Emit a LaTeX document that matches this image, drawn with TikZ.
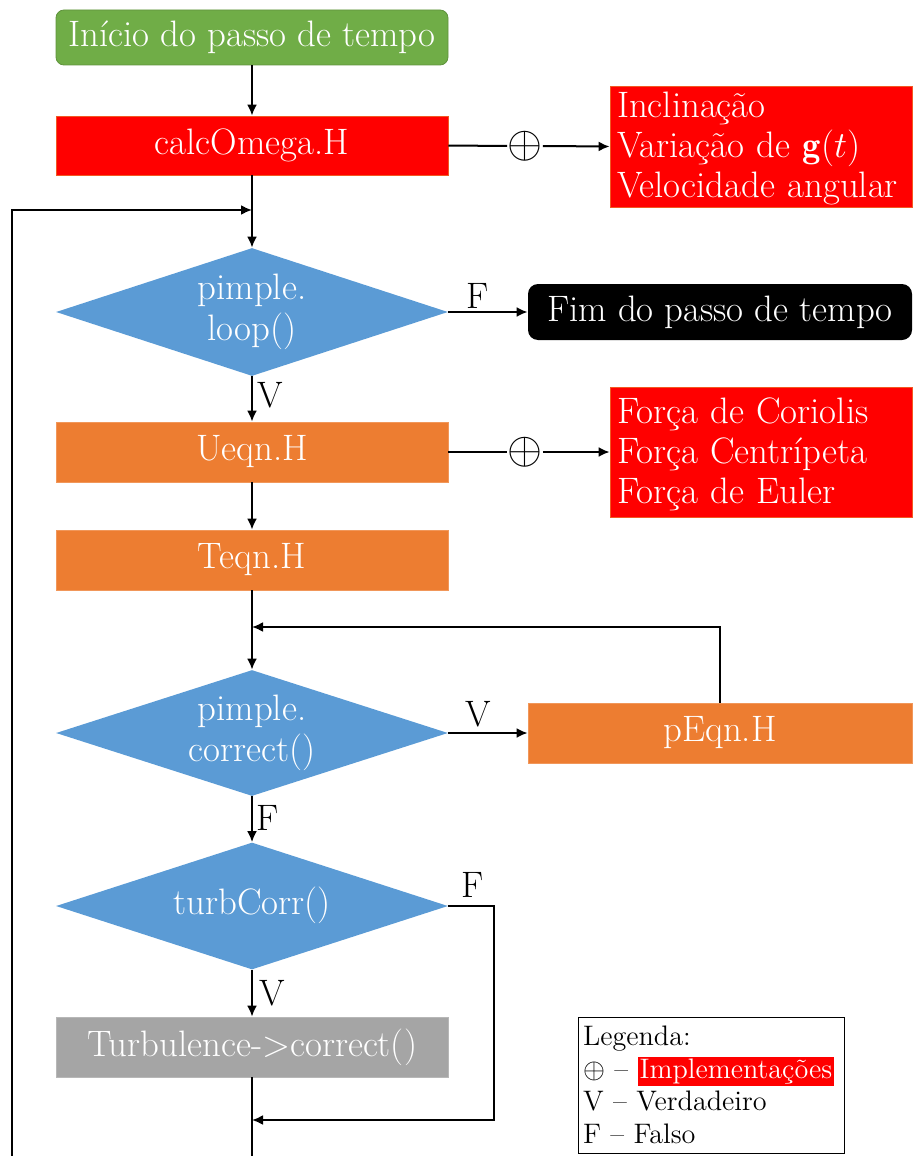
\documentclass[tikz,border=0pt]{standalone}
\usepackage{fix-cm}
\usepackage{fontspec}
\usetikzlibrary{shapes.geometric,arrows.meta}
\definecolor{boxgreen}{HTML}{70AD47}
\definecolor{boxblue}{HTML}{5B9BD5}
\definecolor{boxorange}{HTML}{ED7D31}
\definecolor{boxgray}{HTML}{A5A5A5}
\definecolor{boxred}{HTML}{FF0000}
\tikzset{
  maintext/.style={font=\fontsize{18.4}{20.5}\selectfont, text=white},
  procbox/.style={maintext, rectangle, minimum width=196pt, minimum height=30pt, inner sep=0pt},
  orangebox/.style={procbox, fill=boxorange, draw=boxorange!80!white, line width=0.4pt},
  decision/.style={maintext, diamond, aspect=3.06, fill=boxblue, inner sep=0pt,
    minimum width=196pt, minimum height=64pt, align=center},
  sidebox/.style={maintext, rectangle, fill=boxred, draw=boxorange!70!boxred, line width=0.4pt,
    inner xsep=3.5pt, inner ysep=0pt, text width=144pt, align=left, minimum width=151pt},
  plusnode/.style={inner sep=0pt, font=\fontsize{22.5}{22.5}\selectfont},
  flow/.style={line width=1pt, -{Latex[length=5.5pt,width=5pt]}},
  plain/.style={line width=1pt},
  branch/.style={font=\fontsize{18.4}{20}\selectfont, inner sep=0pt},
}
\begin{document}
\begin{tikzpicture}[x=0.5pt, y=-0.5pt]
  \useasboundingbox (0,0) rectangle (912,1156);

  % main column
  \node[procbox, fill=boxgreen, draw=boxgreen!85!black, line width=0.4pt,
        rounded corners=4pt, minimum height=27.5pt] (start) at (252,37.5) {Início do passo de tempo};
  \node[procbox, fill=boxred, draw=boxorange!70!boxred, line width=0.4pt, minimum height=29.5pt]
        (omega) at (252,145.5) {calcOmega.H};
  \node[decision] (loop) at (252,312) {pimple.\\loop()};
  \node[orangebox] (ueqn) at (252,452) {Ueqn.H};
  \node[orangebox] (teqn) at (252,560) {Teqn.H};
  \node[decision, minimum height=63pt] (corr) at (252,733) {pimple.\\correct()};
  \node[decision, minimum height=63.5pt] (turb) at (252,906) {\raisebox{5pt}{turbCorr()}};
  \node[procbox, fill=boxgray, draw=boxgray!80!white, line width=0.4pt] (tcorr) at (252,1047)
        {Turbulence->correct()};

  % right column
  \node[procbox, fill=black, rounded corners=5pt, minimum width=192pt, minimum height=28pt]
        (fim) at (720,312) {Fim do passo de tempo};
  \node[orangebox, minimum width=192pt] (peqn) at (720,733) {pEqn.H};
  \node[sidebox, minimum height=60.5pt, font=\fontsize{18.4}{20}\selectfont] (rot) at (761,146.5)
        {\rule{0pt}{15pt}Inclinação\\Variação de $\mathbf{g}(t)$\\Velocidade angular};
  \node[sidebox, minimum height=65pt, font=\fontsize{18.4}{20}\selectfont] (forces) at (761,452)
        {\rule{0pt}{15pt}Força de Coriolis\\Força Centrípeta\\Força de Euler};
  \node[plusnode] (plusA) at (525,146) {$\oplus$};
  \node[plusnode] (plusB) at (525,452) {$\oplus$};

  % legend
  \node[draw=black, line width=0.5pt, rectangle, minimum width=133pt, minimum height=68pt,
        inner xsep=2.5pt, text width=128pt, align=left,
        font=\fontsize{14.1}{16.25}\selectfont] (legend) at (711,1085)
        {Legenda:\\
         $\oplus$ -- {\setlength{\fboxsep}{1pt}\colorbox{boxred}{\textcolor{white}{Implementações}}}\\
         V -- Verdadeiro\\
         F -- Falso};

  % helper points for the loops
  \coordinate (join) at (252,210);
  \coordinate (leftbot) at (12,1156);
  \coordinate (leftjoin) at (12,210);
  \coordinate (midbot) at (252,1156);
  \coordinate (pjoin) at (252,627);
  \coordinate (ptop) at (720,627);
  \coordinate (fright) at (494,906);
  \coordinate (fbot) at (494,1120);
  \coordinate (fjoin) at (252,1120);

  % connectors
  \draw[flow] (start) -- (omega);
  \draw[flow] (omega) -- (loop);
  \draw[flow] (leftbot) -- (leftjoin) -- (join);
  \draw[flow] (loop.east) -- (fim.west);
  \draw[flow] (loop.south) -- (ueqn.north);
  \draw[flow] (ueqn) -- (teqn);
  \draw[flow] (teqn.south) -- (corr.north);
  \draw[flow] (peqn.north) -- (ptop) -- (pjoin);
  \draw[flow] (corr.east) -- (peqn.west);
  \draw[flow] (corr.south) -- (turb.north);
  \draw[flow] (turb.south) -- (tcorr.north);
  \draw[flow] (turb.east) -- (fright) -- (fbot) -- (fjoin);
  \draw[plain] (tcorr.south) -- (midbot);
  \draw[plain] (omega.east) -- (plusA.west);
  \draw[flow] (plusA.east) -- (rot.west);
  \draw[plain] (ueqn.east) -- (plusB.west);
  \draw[flow] (plusB.east) -- (forces.west);

  % branch labels
  \node[branch] (lf1) at (478,296) {F};
  \node[branch] (lv1) at (270,395) {V};
  \node[branch] (lv2) at (478,714) {V};
  \node[branch] (lf2) at (268,818) {F};
  \node[branch] (lf3) at (473,885) {F};
  \node[branch] (lv3) at (272,993) {V};
\end{tikzpicture}
\end{document}
